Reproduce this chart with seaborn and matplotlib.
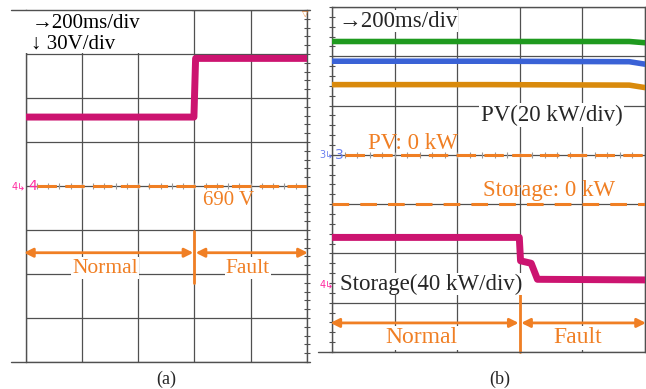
import numpy as np
import pandas as pd
import matplotlib
matplotlib.use("Agg")
import matplotlib.pyplot as plt
from matplotlib.lines import Line2D
from matplotlib.patches import Rectangle
from matplotlib.ticker import MultipleLocator
import seaborn as sns

# ---------------- data ----------------
# (a) DC-link voltage, 200 ms/div, 30 V/div, reference 690 V
t_a = [0, 598, 604, 1000]                 # ms
v_a = [737, 737, 777, 777]                # V
v_ref_a = 690

# (b) PV power (20 kW/div), storage power (40 kW/div)
t_pv = [0, 500, 950, 1000]                # ms
pv_green = [46, 46, 46, 45.5]             # kW
pv_blue = [38, 38, 37.8, 36.8]            # kW
pv_orange = [28.5, 28.5, 28.3, 27.3]      # kW

t_st = [0, 598, 602, 636, 656, 1000]      # ms
p_storage = [-27, -27, -46, -48, -61, -61.5]  # kW

phase_labels = ["Normal", "Fault"]
fault_time = 600

# ---------------- style ----------------
sns.set_theme(style="white")
plt.rcParams["font.family"] = ["Liberation Serif", "DejaVu Serif"]
plt.rcParams["lines.scale_dashes"] = False

ORANGE = "#f07f24"
MAGENTA = "#cc1470"
GRID = "#505050"
W, H = 646, 389

fig = plt.figure(figsize=(6.46, 3.89), dpi=100)


def frac_rect(x0, y0, x1, y1):
    return [x0 / W, 1 - y1 / H, (x1 - x0) / W, (y1 - y0) / H]


def style_scope(ax, minor):
    ax.grid(True, color=GRID, linewidth=0.9)
    ax.set_axisbelow(True)
    ax.yaxis.set_minor_locator(MultipleLocator(minor))
    ax.tick_params(axis="y", which="both", left=False, right=True,
                   direction="inout", length=5, width=0.8, color=GRID,
                   labelleft=False, labelright=False)
    ax.tick_params(axis="x", which="both", bottom=False, top=False,
                   labelbottom=False)
    for s in ax.spines.values():
        s.set_color(GRID)
        s.set_linewidth(1.0)
    ax.set_xlabel("")
    ax.set_ylabel("")


# ================= panel (a) =================
ax_a = fig.add_axes(frac_rect(25.7, 10, 307, 362))
df_a = pd.DataFrame({"t": t_a, "v": v_a})
sns.lineplot(data=df_a, x="t", y="v", ax=ax_a, color=MAGENTA, linewidth=5.0,
             estimator=None, sort=False, legend=False, zorder=5)
ax_a.set_xlim(0, 1000)
ax_a.set_ylim(570, 810)
ax_a.set_xticks(np.arange(0, 1001, 200))
ax_a.set_yticks(np.arange(570, 811, 30))
style_scope(ax_a, 6)
ax_a.spines["top"].set_visible(False)
ax_a.spines["bottom"].set_visible(False)

# white box behind the scale text
ax_a.add_patch(Rectangle((-8, 781), 600, 28.5, facecolor="white",
                         edgecolor="none", zorder=3, clip_on=False))
ax_a.text(20, 801, "\u2192200ms/div", fontsize=15, color="black",
          va="center", ha="left", zorder=6)
ax_a.text(20, 787, "\u2193 30V/div", fontsize=15, color="black",
          va="center", ha="left", zorder=6)

# center graticule ticks + reference line
ax_a.plot(np.arange(40, 1000, 40), [v_ref_a] * 24, linestyle="none",
          marker="|", markersize=4, markeredgewidth=0.8, color="#999999",
          zorder=4)
ax_a.axhline(v_ref_a, xmin=0.04, xmax=1, color=ORANGE, linewidth=2.2,
             dashes=(14, 6), zorder=4)
ax_a.text(8, v_ref_a, "4", color="#ff2aa0", fontsize=10, va="center",
          ha="left", family=["DejaVu Sans"], zorder=6)
ax_a.text(-50, v_ref_a, "4\u21b3", color="#ff2aa0", fontsize=7, va="center",
          ha="left", family=["DejaVu Sans"], zorder=6, clip_on=False)
ax_a.text(630, 680, "690 V", color=ORANGE, fontsize=15, va="center",
          ha="left", zorder=6)

# Normal / Fault arrows
arrow_kw = dict(arrowstyle="<|-|>", color=ORANGE, lw=2.0,
                mutation_scale=13, shrinkA=0, shrinkB=0)
ax_a.annotate("", xy=(-6, 644.5), xytext=(596, 644.5),
              arrowprops=arrow_kw, annotation_clip=False, zorder=6)
ax_a.annotate("", xy=(604, 644.5), xytext=(1003, 644.5),
              arrowprops=arrow_kw, annotation_clip=False, zorder=6)
ax_a.plot([fault_time, fault_time], [624, 659], color=ORANGE, lw=2.0, zorder=6)
ax_a.text(283, 634, phase_labels[0], color=ORANGE, fontsize=15.5,
          ha="center", va="center", zorder=6,
          bbox=dict(facecolor="white", edgecolor="none", pad=1))
ax_a.text(790, 634, phase_labels[1], color=ORANGE, fontsize=15.5,
          ha="center", va="center", zorder=6,
          bbox=dict(facecolor="white", edgecolor="none", pad=1))
ax_a.text(993, 808, "\u25bd", color=ORANGE, fontsize=6, ha="center",
          va="center", family=["DejaVu Sans"], zorder=6, clip_on=False)

# outer borders of panel (a)
fig.add_artist(Line2D([11 / W, 310 / W], [1 - 10 / H] * 2, color=GRID, lw=1.0))
fig.add_artist(Line2D([11 / W, 310 / W], [1 - 362 / H] * 2, color=GRID, lw=1.0))
fig.text(166 / W, 1 - 379 / H, "(a)", fontsize=13, ha="center", va="center")

# ================= panel (b) =================
ax_b = fig.add_axes(frac_rect(332.3, 7, 645, 352))
ax_b.set_xlim(0, 1000)
ax_b.set_ylim(-80, 60)          # PV scale: 20 kW/div, zero at 4th div
df_pv = pd.DataFrame({"t": t_pv, "green": pv_green, "blue": pv_blue,
                      "orange": pv_orange})
for col, c in [("green", "#1f9a1f"), ("blue", "#3a62d6"),
               ("orange", "#d98a0c")]:
    sns.lineplot(data=df_pv, x="t", y=col, ax=ax_b, color=c, linewidth=4.0,
                 estimator=None, sort=False, legend=False, zorder=5)
ax_b.set_xticks(np.arange(0, 1001, 200))
ax_b.set_yticks(np.arange(-80, 61, 20))
style_scope(ax_b, 4)
ax_b.spines["bottom"].set_visible(False)

ax_s = ax_b.twinx()
ax_s.set_ylim(-120, 160)        # storage scale: 40 kW/div, zero at 3rd div
df_st = pd.DataFrame({"t": t_st, "p": p_storage})
sns.lineplot(data=df_st, x="t", y="p", ax=ax_s, color=MAGENTA, linewidth=5.0,
             estimator=None, sort=False, legend=False, zorder=5)
ax_s.set_xlim(0, 1000)
ax_s.set_ylabel("")
ax_s.set_xlabel("")
ax_s.tick_params(axis="y", which="both", right=False, labelright=False)
for s in ax_s.spines.values():
    s.set_visible(False)
ax_s.grid(False)

# zero references
ax_b.plot(np.arange(40, 1000, 40), [0] * 24, linestyle="none",
          marker="|", markersize=4, markeredgewidth=0.8, color="#999999",
          zorder=4)
ax_b.axhline(0, xmin=0.04, xmax=1, color=ORANGE, linewidth=2.2,
             dashes=(14, 6), zorder=4)
ax_s.axhline(0, xmin=0, xmax=1, color=ORANGE, linewidth=2.2,
             dashes=(12, 8), zorder=4)

ax_b.text(18, 54.3, "\u2192200ms/div", fontsize=16.5, ha="left", va="center",
          zorder=6, bbox=dict(facecolor="white", edgecolor="none", pad=0.5))
ax_b.text(475, 16.1, "PV(20 kW/div)", fontsize=16.5, ha="left", va="center",
          zorder=6, bbox=dict(facecolor="white", edgecolor="none", pad=1))
ax_b.text(114, 4.8, "PV: 0 kW", fontsize=16.5, color=ORANGE, ha="left",
          va="center", zorder=6)
ax_b.text(482, -14.3, "Storage: 0 kW", fontsize=16.5, color=ORANGE,
          ha="left", va="center", zorder=6)
ax_b.text(25, -52.4, "Storage(40 kW/div)", fontsize=16.5, ha="left",
          va="center", zorder=7,
          bbox=dict(facecolor="white", edgecolor="none", pad=0.5))
ax_b.text(22, 0, "3", color="#6a7ff0", fontsize=10, va="center",
          ha="center", family=["DejaVu Sans"], zorder=6)
ax_b.text(-42, 0, "3\u21b3", color="#6a7ff0", fontsize=7, va="center",
          ha="left", family=["DejaVu Sans"], zorder=6, clip_on=False)
ax_b.text(-42, -52.4, "4\u21b3", color="#ff2aa0", fontsize=7, va="center",
          ha="left", family=["DejaVu Sans"], zorder=6, clip_on=False)

ax_b.annotate("", xy=(-6, -68.2), xytext=(596, -68.2),
              arrowprops=arrow_kw, annotation_clip=False, zorder=6)
ax_b.annotate("", xy=(604, -68.2), xytext=(1003, -68.2),
              arrowprops=arrow_kw, annotation_clip=False, zorder=6)
ax_b.plot([fault_time, fault_time], [-56, -80], color=ORANGE, lw=2.0,
          zorder=6, clip_on=False)
ax_b.text(284, -74.3, phase_labels[0], color=ORANGE, fontsize=17,
          ha="center", va="center", zorder=6,
          bbox=dict(facecolor="white", edgecolor="none", pad=1))
ax_b.text(786, -74.3, phase_labels[1], color=ORANGE, fontsize=17,
          ha="center", va="center", zorder=6,
          bbox=dict(facecolor="white", edgecolor="none", pad=1))

fig.add_artist(Line2D([318 / W, 646 / W], [1 - 352 / H] * 2, color=GRID, lw=1.0))
fig.text(500 / W, 1 - 379 / H, "(b)", fontsize=13, ha="center", va="center")

fig.savefig("out.png", dpi=100, facecolor="white")
